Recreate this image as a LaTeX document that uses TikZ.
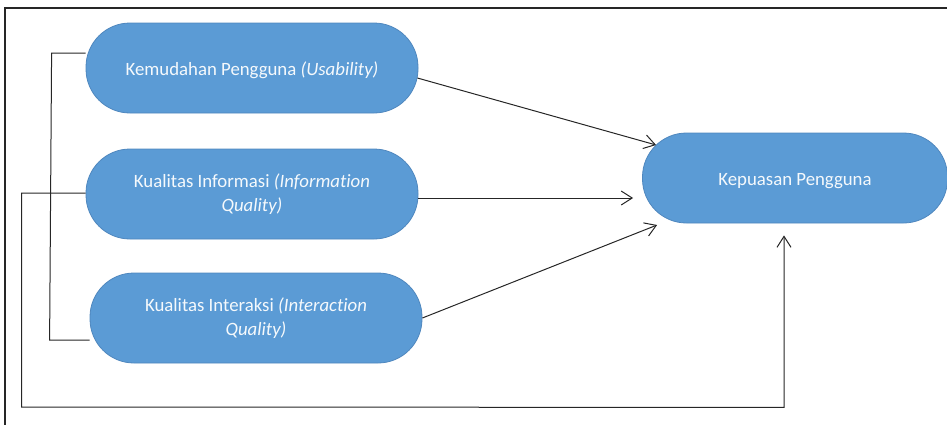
\documentclass[tikz,border=0pt]{standalone}
\usepackage{fontspec}
\setmainfont{Carlito}[Ligatures=NoCommon]
\usetikzlibrary{arrows.meta,calc}
\definecolor{boxfill}{HTML}{5B9BD5}
\definecolor{boxline}{HTML}{4F87BE}
\tikzset{
  oval/.style={draw=boxline, line width=0.8pt, fill=boxfill, rounded corners=44pt,
    minimum width=332pt, minimum height=90pt, inner sep=0pt, align=center,
    text=white!94!boxfill, font=\fontsize{18.8}{24}\selectfont},
  conn/.style={line width=1pt, draw=black!85},
  arr/.style={conn, -{Straight Barb[length=11pt,width=14pt,line width=1pt]}},
}
\begin{document}
\begin{tikzpicture}[x=1pt,y=-1pt]
\useasboundingbox (0,0) rectangle (947,424);
\draw[line width=1.6pt, black!85] (5,430) -- (5,8) -- (955,8);
\node[oval] (kem) at (252,68) {\raisebox{-2pt}[\height][\depth]{Kemudahan Pengguna \textit{(Usability)}}};
\node[oval] (inf) at (252,194) {Kualitas Informasi \textit{(Information}\\\textit{Quality)}};
\node[oval] (int) at (256,318) {Kualitas Interaksi \textit{(Interaction}\\\textit{Quality)}};
\node[oval, minimum width=305pt] (kep) at (795,178) {\raisebox{-3pt}[\height][\depth]{Kepuasan Pengguna}};
\coordinate (b1) at ($(kem.west)+(-34,-15)$);
\coordinate (b2) at ($(int.west)+(-40,22)$);
\draw[conn] ($(kem.west)+(0,-15)$) -- (b1) -- (b2) -- ($(int.west)+(0,22)$);
\coordinate (c1) at ($(inf.west)+(-64,-1)$);
\coordinate (c2) at ($(inf.west)+(-64,213)$);
\coordinate (c3) at ($(kep.south)+(-11,184)$);
\draw[arr] ($(inf.west)+(0,-1)$) -- (c1) -- (c2) -- (c3) -- ($(kep.south)+(-11,12)$);
\draw[arr] ($(kem.east)+(-1,10)$) -- ($(kep.west)+(14,-33)$);
\draw[arr] ($(inf.east)+(0,4)$) -- ($(kep.west)+(-9,20)$);
\draw[arr] (int.east) -- ($(kep.west)+(15,47)$);
\end{tikzpicture}
\end{document}
